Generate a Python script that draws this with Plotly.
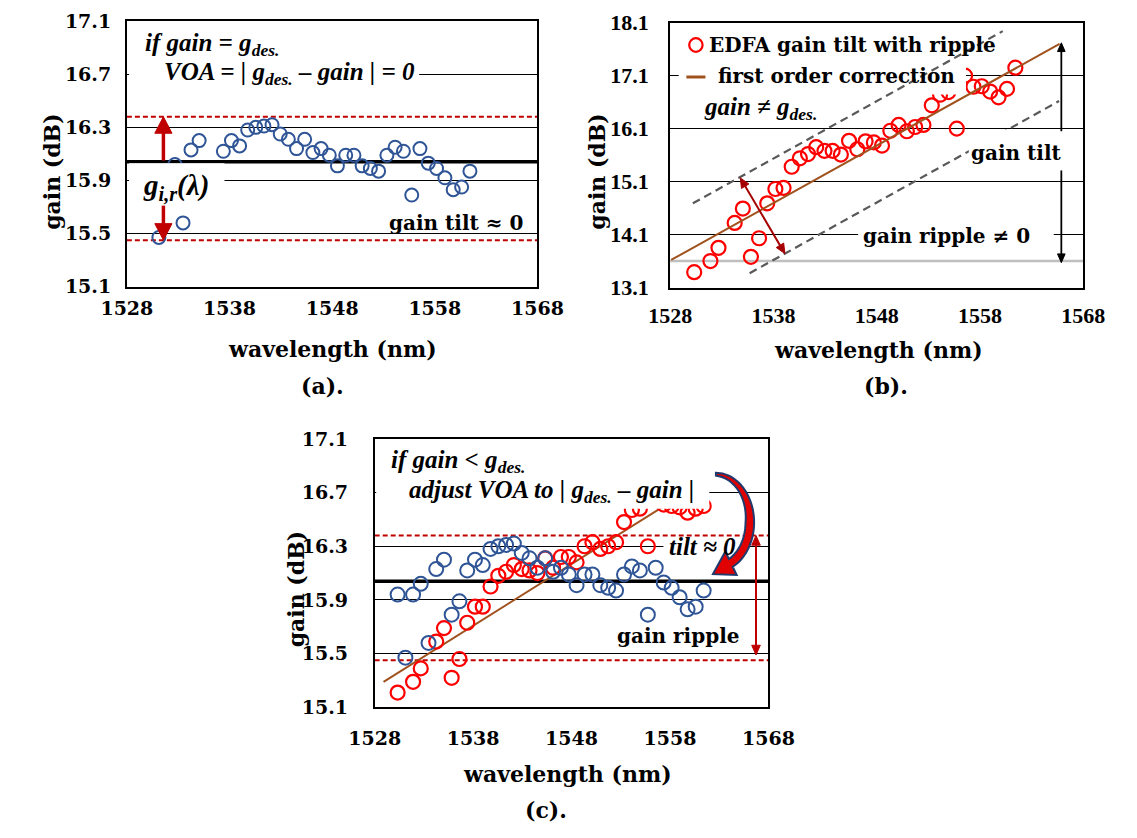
import numpy as np
import plotly.graph_objects as go

W, H = 1137, 838

# ---------------- data ----------------
wavelength_nm = [1530.33, 1531.12, 1531.90, 1532.68, 1533.47, 1534.25, 1535.04, 1535.82, 1536.61, 1537.40,
                 1538.19, 1538.98, 1539.77, 1540.56, 1541.35, 1542.14, 1542.94, 1543.73, 1544.53, 1545.32,
                 1546.12, 1546.92, 1547.72, 1548.51, 1549.32, 1550.12, 1550.92, 1551.72, 1552.52, 1553.33,
                 1554.13, 1554.94, 1555.75, 1556.55, 1557.36, 1558.17, 1558.98, 1559.79, 1560.61, 1561.42]

# flattened gain (blue circles, panels a and c)
gain_flat_db = [15.94, 15.47, 15.94, 16.02, 15.58, 16.13, 16.20, 15.79, 15.89, 16.12,
                16.20, 16.16, 16.28, 16.30, 16.31, 16.32, 16.25, 16.21, 16.14, 16.21,
                16.11, 16.14, 16.09, 16.01, 16.09, 16.09, 16.01, 15.99, 15.97, 16.09,
                16.15, 16.12, 15.79, 16.14, 16.03, 15.99, 15.92, 15.83, 15.85, 15.97]

# EDFA gain tilt with ripple (red circles, panel b)
gain_tilt_b_db = [13.39, None, 13.60, 13.85, None, 14.32, 14.59, 13.68, 14.03, 14.69,
                  14.96, 14.98, 15.38, 15.54, 15.62, 15.75, 15.68, 15.68, 15.61, 15.87,
                  15.71, 15.86, 15.84, 15.78, 16.06, 16.17, 16.05, 16.13, 16.17, 16.54,
                  16.74, 16.79, 16.10, 17.10, 16.89, 16.90, 16.80, 16.69, 16.85, 17.25]

# gain before correction (red circles, panel c)
gain_tilt_c_db = [15.21, None, 15.29, 15.39, None, 15.59, 15.69, 15.32, 15.46, 15.73,
                  15.85, 15.85, 16.00, 16.08, 16.11, 16.16, 16.13, 16.12, 16.10, 16.21,
                  16.14, 16.22, 16.22, 16.18, 16.30, 16.33, 16.28, 16.30, 16.33, 16.48,
                  16.57, 16.58, 16.30, 16.69, 16.61, 16.60, 16.59, 16.55, 16.58, 16.60]

# first order correction lines and ripple envelope (panel b / c)
fit_b_nm = [1528.1, 1565.7]
fit_b_db = [13.62, 17.70]
upper_b_nm = [1530.2, 1560.2]
upper_b_db = [14.69, 17.94]
lower_b_nm = [1535.7, 1565.65]
lower_b_db = [13.37, 16.62]
fit_c_nm = [1528.9, 1558.5]
fit_c_db = [15.29, 16.65]

g_des_db = 16.04
ripple_band_db = [15.45, 16.38]
floor_b_db = 13.6

x_ticks = [1528, 1538, 1548, 1558, 1568]
y_ticks_ac = [15.1, 15.5, 15.9, 16.3, 16.7, 17.1]
y_ticks_b = [13.1, 14.1, 15.1, 16.1, 17.1, 18.1]
x_range = [1528, 1568]
y_range_ac = [15.1, 17.1]
y_range_b = [13.1, 18.1]

# ---------------- style ----------------
BLUE = '#2F5597'
RED = '#FF0000'
DKRED = '#C00000'
BROWN = '#A0521E'
GEO = 'DejaVu Serif'
TIMES = 'Liberation Serif'

# panel boxes in pixels
PA = dict(l=105.7, r=536.0, t=9.5, b=283.0, yr=y_range_ac)
PB = dict(l=675.0, r=1108.0, t=11.0, b=284.0, yr=y_range_b)
PC = dict(l=365.4, r=778.0, t=440.0, b=716.7, yr=y_range_ac)


def xdom(p):
    return [p['l'] / W, p['r'] / W]


def ydom(p):
    return [1 - p['b'] / H, 1 - p['t'] / H]


def to_px(p, lam, g):
    x = p['l'] + (lam - x_range[0]) / (x_range[1] - x_range[0]) * (p['r'] - p['l'])
    y = p['b'] - (g - p['yr'][0]) / (p['yr'][1] - p['yr'][0]) * (p['b'] - p['t'])
    return np.array([x, y])


def xaxis(p, anchor, fam, size, standoff):
    return dict(domain=xdom(p), anchor=anchor, range=x_range, tickvals=x_ticks,
                ticktext=[str(v) for v in x_ticks], showgrid=False, zeroline=False,
                showline=True, mirror=True, linecolor='black', linewidth=1.8, ticks='',
                tickfont=dict(family=fam, size=size, color='black', weight='bold'),
                ticklabelstandoff=standoff, ticklabeloverflow='allow', fixedrange=True)


def yaxis(p, anchor, tv, fam, size, standoff):
    return dict(domain=ydom(p), anchor=anchor, range=p['yr'], tickvals=tv,
                ticktext=['%.1f' % v for v in tv], showgrid=True, gridcolor='black', gridwidth=1.3,
                zeroline=False, showline=True, mirror=True, linecolor='black', linewidth=1.8,
                ticks='', tickfont=dict(family=fam, size=size, color='black', weight='bold'),
                ticklabelstandoff=standoff, ticklabeloverflow='allow', fixedrange=True)


fig = go.Figure()

blue_marker = dict(symbol='circle-open', size=13, color=BLUE, line=dict(width=2))
red_marker = dict(symbol='circle-open', size=14, color=RED, line=dict(width=2.2))

# panel (a)
fig.add_trace(go.Scatter(x=wavelength_nm, y=gain_flat_db, mode='markers', marker=blue_marker,
                         xaxis='x', yaxis='y', showlegend=False))
# panel (b)
fig.add_trace(go.Scatter(x=wavelength_nm, y=gain_tilt_b_db, mode='markers', marker=red_marker,
                         xaxis='x2', yaxis='y2', showlegend=False))
fig.add_trace(go.Scatter(x=fit_b_nm, y=fit_b_db, mode='lines', line=dict(color=BROWN, width=2),
                         xaxis='x2', yaxis='y2', showlegend=False))
# panel (c)
fig.add_trace(go.Scatter(x=fit_c_nm, y=fit_c_db, mode='lines', line=dict(color=BROWN, width=2),
                         xaxis='x3', yaxis='y3', showlegend=False))
fig.add_trace(go.Scatter(x=wavelength_nm, y=gain_tilt_c_db, mode='markers', marker=red_marker,
                         xaxis='x3', yaxis='y3', showlegend=False))
fig.add_trace(go.Scatter(x=wavelength_nm, y=gain_flat_db, mode='markers',
                         marker=dict(symbol='circle-open', size=14, color=BLUE, line=dict(width=2)),
                         xaxis='x3', yaxis='y3', showlegend=False))


def rect_px(x0, y0, x1, y1):
    return dict(type='rect', xref='paper', yref='paper', x0=x0 / W, x1=x1 / W,
                y0=1 - y1 / H, y1=1 - y0 / H, fillcolor='white', line=dict(width=0), layer='above')


def pp(pt):
    return '%.5f,%.5f' % (pt[0] / W, 1 - pt[1] / H)


def arrow_shapes(p, a, b, color, width, hl, hw, both=False):
    """arrow from data point a to data point b of panel p (head at b)."""
    A, B = to_px(p, *a), to_px(p, *b)
    u = (B - A) / np.linalg.norm(B - A)
    s = A + u * hl * 0.8 if both else A
    e = B - u * hl * 0.8
    out = [dict(type='path', xref='paper', yref='paper', path='M %s L %s' % (pp(s), pp(e)),
                line=dict(color=color, width=width), layer='above')]
    heads = [(B, u)] + ([(A, -u)] if both else [])
    for tip, uu in heads:
        n2 = np.array([-uu[1], uu[0]])
        b1 = tip - uu * hl + n2 * hw / 2
        b2 = tip - uu * hl - n2 * hw / 2
        out.append(dict(type='path', xref='paper', yref='paper',
                        path='M %s L %s L %s Z' % (pp(tip), pp(b1), pp(b2)),
                        fillcolor=color, line=dict(color=color, width=1), layer='above'))
    return out


shapes = []
# reference lines
for xr, yr in (('x', 'y'), ('x3', 'y3')):
    shapes.append(dict(type='line', xref=xr + ' domain', yref=yr, x0=0, x1=1, y0=g_des_db, y1=g_des_db,
                       line=dict(color='black', width=3.5), layer='below'))
    for v in ripple_band_db:
        shapes.append(dict(type='line', xref=xr + ' domain', yref=yr, x0=0, x1=1, y0=v, y1=v,
                           line=dict(color=DKRED, width=2, dash='5px,3px'), layer='below'))
shapes.append(dict(type='line', xref='x2 domain', yref='y2', x0=0, x1=1, y0=floor_b_db, y1=floor_b_db,
                   line=dict(color='#BFBFBF', width=2.5), layer='below'))

# white text boxes (a)
shapes.append(rect_px(108, 48, 412, 80))
shapes.append(rect_px(108, 156, 208, 200))
# (b) lower envelope is hidden by the "gain tilt" box
shapes.append(dict(type='line', xref='x2', yref='y2', x0=lower_b_nm[0], x1=lower_b_nm[1],
                   y0=lower_b_db[0], y1=lower_b_db[1],
                   line=dict(color='#595959', width=2.2, dash='8px,5px'), layer='above'))
shapes.append(rect_px(988, 121.5, 1082, 163))
shapes.append(rect_px(872, 221, 1077, 240))
shapes.append(rect_px(684, 14, 985, 85))
shapes.append(dict(type='line', xref='x2', yref='y2', x0=upper_b_nm[0], x1=upper_b_nm[1],
                   y0=upper_b_db[0], y1=upper_b_db[1],
                   line=dict(color='#595959', width=2.2, dash='8px,5px'), layer='above'))
# legend symbols (b)
shapes.append(dict(type='circle', xref='paper', yref='paper', x0=695 / W, x1=709 / W,
                   y0=1 - 41 / H, y1=1 - 27 / H, line=dict(color=RED, width=2.2), layer='above'))
shapes.append(dict(type='line', xref='paper', yref='paper', x0=692 / W, x1=712 / W,
                   y0=1 - 67 / H, y1=1 - 67 / H, line=dict(color=BROWN, width=3), layer='above'))
# white text boxes (c)
shapes.append(rect_px(367, 445, 716, 512))
shapes.append(rect_px(668, 541.5, 749, 562))

# curved arrow (c)
cx, cy, rx, ry = 723.0, 526.0, 40.0, 51.0
phis = np.radians(np.linspace(-90, 64, 48))
t = np.linspace(0, 1, len(phis))
d = 3 + 6 * np.minimum(1, t * 1.7)
ox, oy = cx + rx * np.cos(phis), cy + ry * np.sin(phis)
ix, iy = cx + (rx - d) * np.cos(phis), cy + (ry - d) * np.sin(phis)
po = np.array([ox[-1], oy[-1]])
pi_ = np.array([ix[-1], iy[-1]])
mid = (po + pi_) / 2
nrm = (po - pi_) / np.linalg.norm(po - pi_)
tan = np.array([-rx * np.sin(phis[-1]), ry * np.cos(phis[-1])])
tan = tan / np.linalg.norm(tan)
bo = mid + nrm * 14
bi = mid - nrm * 13
tip = mid + tan * 22
pts = list(zip(ox, oy)) + [tuple(bo), tuple(tip), tuple(bi)] + list(zip(ix[::-1], iy[::-1]))
path = 'M ' + ' L '.join(pp(q) for q in pts) + ' Z'
shapes.append(dict(type='path', xref='paper', yref='paper', path=path, fillcolor='#E00000',
                   line=dict(color='#1F3A6E', width=2), layer='above'))

# arrows
shapes += arrow_shapes(PA, (1531.56, g_des_db + 0.01), (1531.56, ripple_band_db[1]), DKRED, 3.5, 17, 18)
shapes += arrow_shapes(PA, (1531.56, 15.71), (1531.56, ripple_band_db[0]), DKRED, 3.5, 17, 18)
shapes += arrow_shapes(PB, (1565.87, 16.05), (1565.87, 17.72), 'black', 1.8, 9, 8)
shapes += arrow_shapes(PB, (1565.87, 15.31), (1565.87, floor_b_db - 0.03), 'black', 1.8, 9, 8)
shapes += arrow_shapes(PB, (1539.11, 13.74), (1534.79, 15.17), '#A50000', 2, 10, 9, both=True)
shapes += arrow_shapes(PC, (1566.74, 15.49), (1566.74, ripple_band_db[1]), DKRED, 2, 10, 9, both=True)

ann = []


def txt(x, y, s, fam=GEO, size=20, italic=False, xanchor='center', angle=0):
    ann.append(dict(xref='paper', yref='paper', x=x / W, y=1 - y / H, text=s, showarrow=False,
                    xanchor=xanchor, yanchor='middle', textangle=angle,
                    font=dict(family=fam, size=size, color='black', weight='bold',
                              style='italic' if italic else 'normal')))


# (a) texts
txt(123, 33, 'if gain = g<sub>des.</sub>', TIMES, 25, True, 'left')
txt(143, 63, 'VOA = | g<sub>des.</sub> – gain | = 0', TIMES, 25, True, 'left')
txt(121, 180, 'g<sub>i,r</sub>(λ)', TIMES, 29, True, 'left')
txt(378, 217, 'gain tilt ≈ 0', GEO, 20, False, 'left')
txt(27, 165, 'gain (dB)', GEO, 22, angle=-90)
txt(321, 347, 'wavelength (nm)', GEO, 22)
txt(311, 386, '(a).', GEO, 22)

# (b) texts
txt(714, 34, 'EDFA gain tilt with ripple', GEO, 20, False, 'left')
txt(723, 66, 'first order correction', GEO, 20, False, 'left')
txt(708, 99, 'gain ≠ g<sub>des.</sub>', TIMES, 25, True, 'left')
txt(1037, 145, 'gain tilt', GEO, 20)
txt(965, 231, 'gain ripple ≠ 0', GEO, 20)
txt(598, 165, 'gain (dB)', GEO, 22, angle=-90)
txt(893, 348, 'wavelength (nm)', GEO, 22)
txt(901, 386, '(b).', GEO, 22)

# (c) texts
txt(380, 463, 'if gain &lt; g<sub>des.</sub>', TIMES, 25, True, 'left')
txt(399, 494, 'adjust VOA to | g<sub>des.</sub> – gain |', TIMES, 25, True, 'left')
txt(672, 551, 'tilt ≈ 0', TIMES, 25, True, 'left')
txt(617, 643, 'gain ripple', GEO, 20, False, 'left')
txt(283, 595, 'gain (dB)', GEO, 22, angle=-90)
txt(567, 785, 'wavelength (nm)', GEO, 22)
txt(545, 823, '(c).', GEO, 22)

fig.update_layout(
    width=W, height=H, autosize=False, margin=dict(l=0, r=0, t=0, b=0),
    paper_bgcolor='white', plot_bgcolor='white', showlegend=False,
    xaxis=xaxis(PA, 'y', GEO, 19, 4),
    yaxis=yaxis(PA, 'x', y_ticks_ac, GEO, 19, 10),
    xaxis2=xaxis(PB, 'y2', TIMES, 22, 7),
    yaxis2=yaxis(PB, 'x2', y_ticks_b, TIMES, 22, 15),
    xaxis3=xaxis(PC, 'y3', GEO, 19, 13),
    yaxis3=yaxis(PC, 'x3', y_ticks_ac, GEO, 19, 21),
    shapes=shapes, annotations=ann,
)

fig.write_html('out.html', config={'displayModeBar': False},
               post_script="document.body.style.margin='0';document.body.style.overflow='hidden';")
